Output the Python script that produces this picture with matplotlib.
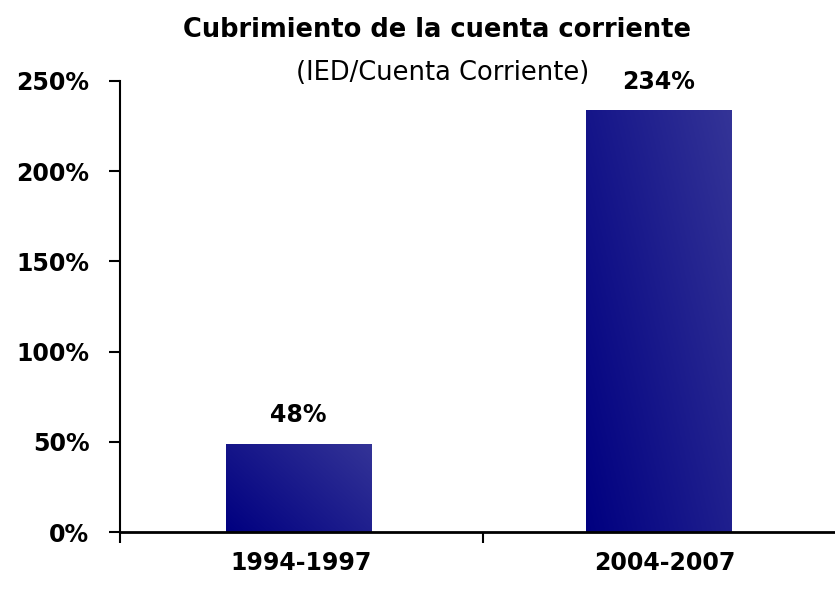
import numpy as np
import matplotlib.pyplot as plt
from matplotlib.colors import LinearSegmentedColormap
from matplotlib.ticker import FuncFormatter, FixedLocator

periodos = ['1994-1997', '2004-2007']
cobertura = [49, 234]
etiquetas = ['48%', '234%']

fig = plt.figure(figsize=(8.35, 5.96), dpi=100)
ax = fig.add_axes([120 / 835, 64 / 596, 726 / 835, 451 / 596])

x = np.arange(len(periodos))
ancho = 0.40
# las barras estan un poco corridas a la izquierda del centro de la categoria
desp = np.array([-0.008, -0.016])
barras = ax.bar(x + desp, cobertura, ancho, color='none', edgecolor='none')

# degradado azul oscuro (abajo izq.) a azul claro (arriba der.)
cmap = LinearSegmentedColormap.from_list('azul', ['#000080', '#343497'])
gx, gy = np.meshgrid(np.linspace(0, 1, 200), np.linspace(0, 1, 200))
for b in barras:
    x0, y0 = b.get_x(), b.get_y()
    w, h = b.get_width(), b.get_height()
    grad = 0.6 * gx + 0.4 * gy
    im = ax.imshow(grad, cmap=cmap, extent=(x0, x0 + w, y0, y0 + h),
                   origin='lower', aspect='auto', zorder=2)
    im.set_clip_path(b)

for b, v, t in zip(barras, cobertura, etiquetas):
    ax.text(b.get_x() + b.get_width() / 2, v + 9, t, ha='center', va='bottom',
            fontsize=17, fontweight='bold')

ax.set_xlim(-0.5, 1.5)
ax.set_ylim(0, 250)
ax.set_yticks(np.arange(0, 251, 50))
ax.yaxis.set_major_formatter(FuncFormatter(lambda v, p: f'{v:.0f}%'))
ax.set_xticks(x)
ax.set_xticklabels(periodos)
ax.xaxis.set_minor_locator(FixedLocator([-0.5, 0.5, 1.5]))
ax.tick_params(axis='x', which='major', length=0, pad=14, labelsize=17)
ax.tick_params(axis='x', which='minor', length=8, width=1.5, direction='out')
ax.tick_params(axis='y', length=8, width=1.5, direction='out', pad=14, labelsize=17)
for lab in ax.get_xticklabels() + ax.get_yticklabels():
    lab.set_fontweight('bold')

for s in ['top', 'right']:
    ax.spines[s].set_visible(False)
ax.spines['left'].set_linewidth(1.5)
ax.spines['bottom'].set_linewidth(2)

fig.text(437 / 835, 1 - 30 / 596, 'Cubrimiento de la cuenta corriente',
         ha='center', va='center', fontsize=18.5, fontweight='bold')
fig.text(443 / 835, 1 - 73 / 596, '(IED/Cuenta Corriente)',
         ha='center', va='center', fontsize=18.5)

fig.savefig('out.png', dpi=100)
